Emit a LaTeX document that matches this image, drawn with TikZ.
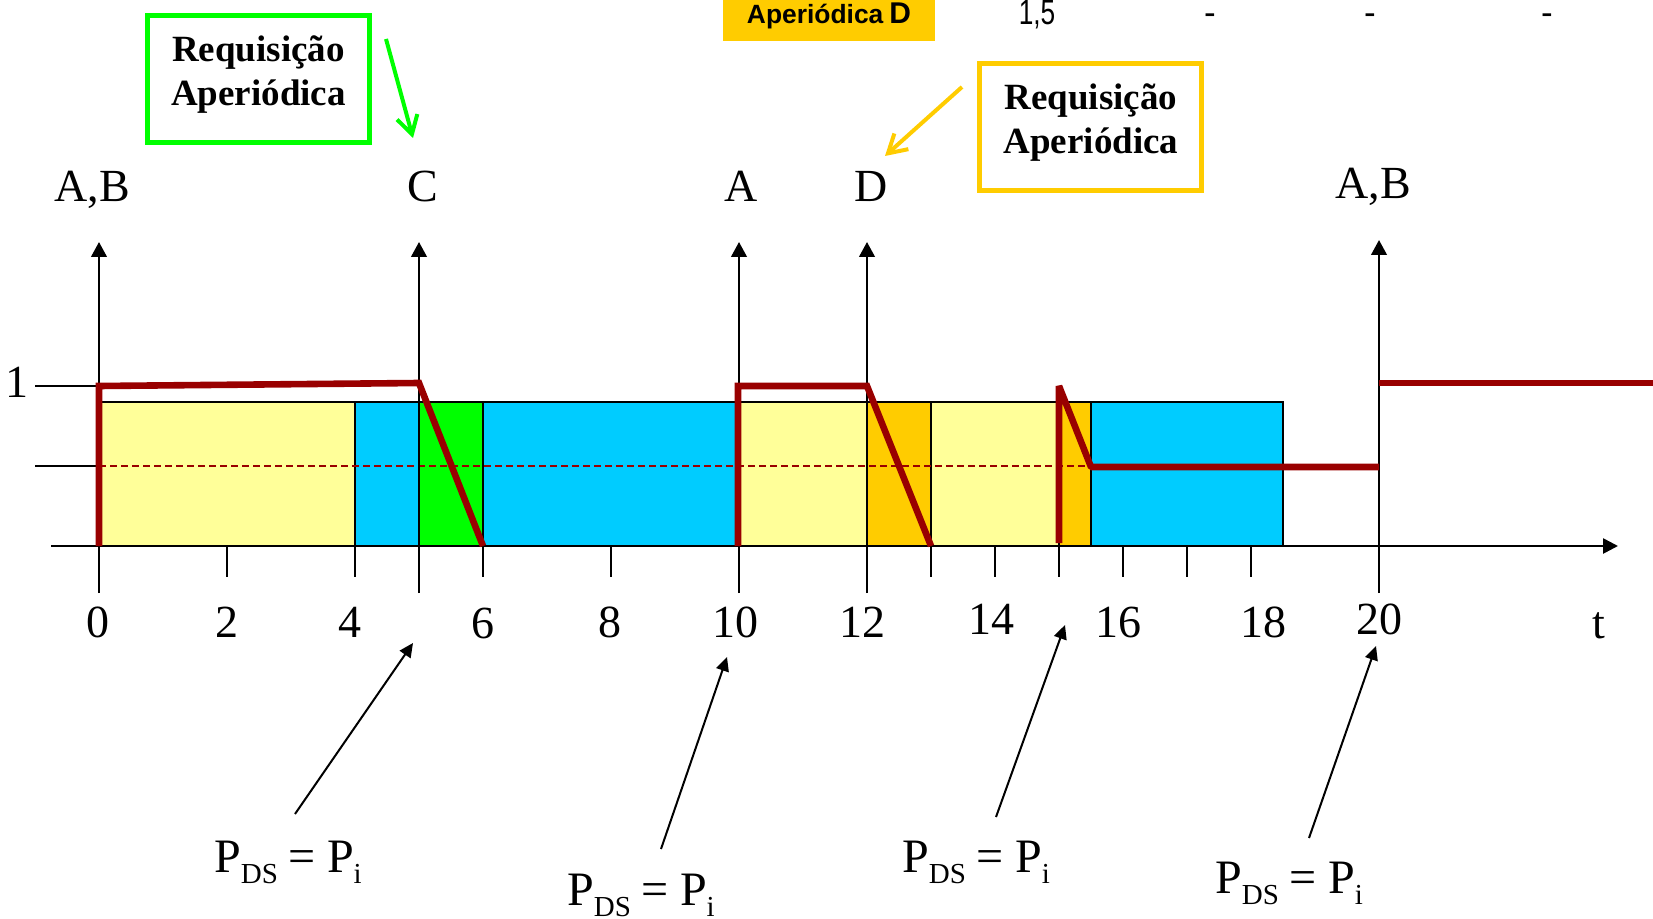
\documentclass[tikz,border=0pt]{standalone}
\usepackage{fontspec}
\setmainfont{Liberation Serif}
\newfontfamily\arialf{Liberation Sans}
\usetikzlibrary{arrows.meta}
\definecolor{srvred}{HTML}{990000}
\definecolor{tyellow}{HTML}{FFFF99}
\definecolor{tblue}{HTML}{00CCFF}
\definecolor{tgreen}{HTML}{00FF00}
\definecolor{torange}{HTML}{FFCC00}
\newcommand{\lowsub}[1]{\raisebox{-5.5pt}{\fontsize{14.5}{16}\selectfont #1}}
\newcommand{\pdseq}{P\lowsub{DS}\hspace{5.5pt}=\hspace{5.5pt}P\lowsub{i}}
\begin{document}
\begin{tikzpicture}[x=0.5pt,y=-0.5pt,
  lbl/.style={font=\fontsize{23}{27}\selectfont, anchor=base, inner sep=0pt},
  boxtxt/.style={font=\fontsize{18.5}{22}\selectfont\bfseries, anchor=base, inner sep=0pt},
  toptxt/.style={font=\arialf\fontsize{17.5}{19}\selectfont, anchor=base, inner sep=0pt},
  pdslbl/.style={font=\fontsize{24}{28}\selectfont, anchor=base, inner sep=0pt},
  slot/.style={draw=black, line width=1pt},
  tickline/.style={draw=black, line width=1pt},
  evarrow/.style={draw=black, line width=1.2pt, -{Triangle[length=7.5pt,width=7.8pt]}},
  ptr/.style={draw=black, line width=1pt, -{Triangle[length=7pt,width=6.5pt]}},
  srv/.style={draw=srvred, line width=3.3pt, line join=miter},
  callout/.style={line width=2pt, -{Straight Barb[length=9pt,width=10.5pt]}},
  reqbox/.style={rectangle, line width=2.6pt, minimum width=111pt, minimum height=63.5pt, inner sep=0pt}
]
\useasboundingbox (0,0) rectangle (1653,919);

% top table fragment
\node[fill=torange, minimum width=106pt, minimum height=20.35pt, inner sep=0pt] (hdr) at (829,20.35) {};
\node[anchor=base, inner sep=0pt] (hdrtxt) at (829,24) {\arialf\bfseries\fontsize{13.2}{15}\selectfont Aperiódica\hspace{3pt}\fontsize{15}{16}\selectfont D};
\node[toptxt] (v1) at (1037,25) {\scalebox{0.75}[1]{1,5}};
\node[toptxt] (v2) at (1210,25) {-};
\node[toptxt] (v3) at (1370,25) {-};
\node[toptxt] (v4) at (1547,25) {-};

% schedule slots
\foreach \a/\b/\c in {99/355/tyellow, 355/419/tblue, 419/483/tgreen, 483/739/tblue,
  739/867/tyellow, 867/931/torange, 931/1059/tyellow, 1059/1091/torange, 1091/1283/tblue}
  \draw[slot, fill=\c] (\a,402) rectangle (\b,546);

% dashed half-capacity line
\draw[srvred, line width=1pt, dash pattern=on 3.5pt off 2pt] (99,466) -- (1091,466);
% level lines
\draw[tickline] (35,386) -- (99,386);
\draw[tickline] (35,466) -- (99,466);
\node[lbl] (one) at (17,397) {1};

% time axis
\draw[line width=1.3pt, -{Triangle[length=7.5pt,width=7.5pt]}] (51,546) -- (1618,546);
\foreach \x in {227,355,483,611,931,995,1059,1123,1187,1251}
  \draw[tickline] (\x,546) -- (\x,577);

% event arrows
\foreach \x/\t in {99/242,419/242,739/242,867/242,1379/240}
  \draw[evarrow] (\x,593) -- (\x,\t);

% server capacity
\draw[srv] (99,546) -- (99,386) -- (419,383) -- (483,546);
\draw[srv] (738,546) -- (738,386) -- (867,386) -- (931,546);
\draw[srv, line join=bevel] (1059,543) -- (1059,386) -- (1091,467) -- (1379,467);
\draw[srv] (1379,383) -- (1653,383);

% event labels
\node[lbl] (evAB1) at (92,202) {A,B};
\node[lbl] (evC) at (423,202) {C};
\node[lbl] (evA) at (741,202) {A};
\node[lbl] (evD) at (871,202) {D};
\node[lbl] (evAB2) at (1373,199) {A,B};

% tick labels
\node[lbl] (t0) at (98,637) {0};
\node[lbl] (t2) at (227,637) {2};
\node[lbl] (t4) at (350,637) {4};
\node[lbl] (t6) at (483,638) {6};
\node[lbl] (t8) at (610,637) {8};
\node[lbl] (t10) at (735,637) {10};
\node[lbl] (t12) at (862,637) {12};
\node[lbl] (t14) at (991,634) {14};
\node[lbl] (t16) at (1118,637) {16};
\node[lbl] (t18) at (1263,637) {18};
\node[lbl] (t20) at (1379,634) {20};
\node[lbl] (tt) at (1599,638) {t};

% request boxes
\node[reqbox, draw=tgreen] (gbox) at (258.75,78.75) {};
\node[boxtxt] (g1) at (258.5,62) {Requisição};
\node[boxtxt] (g2) at (258.5,106) {Aperiódica};
\coordinate (gfrom) at (386,39);
\coordinate (gto) at (413,138);
\draw[callout, draw=tgreen] (gfrom) -- (gto);

\node[reqbox, draw=torange] (obox) at (1090.5,126.75) {};
\node[boxtxt] (o1) at (1091,110) {Requisição};
\node[boxtxt] (o2) at (1091,154) {Aperiódica};
\coordinate (ofrom) at (962,87);
\coordinate (oto) at (885,156);
\draw[callout, draw=torange] (ofrom) -- (oto);

% replenishment labels
\node[pdslbl] (p1) at (288,872) {\pdseq};
\node[pdslbl] (p2) at (641,905) {\pdseq};
\node[pdslbl] (p3) at (976,872) {\pdseq};
\node[pdslbl] (p4) at (1289,893) {\pdseq};
\coordinate (p1s) at (295,814); \coordinate (p1e) at (413,643);
\coordinate (p2s) at (661,849); \coordinate (p2e) at (727,657);
\coordinate (p3s) at (996,817); \coordinate (p3e) at (1065,625);
\coordinate (p4s) at (1309,838); \coordinate (p4e) at (1376,646);
\draw[ptr] (p1s) -- (p1e);
\draw[ptr] (p2s) -- (p2e);
\draw[ptr] (p3s) -- (p3e);
\draw[ptr] (p4s) -- (p4e);
\end{tikzpicture}
\end{document}
